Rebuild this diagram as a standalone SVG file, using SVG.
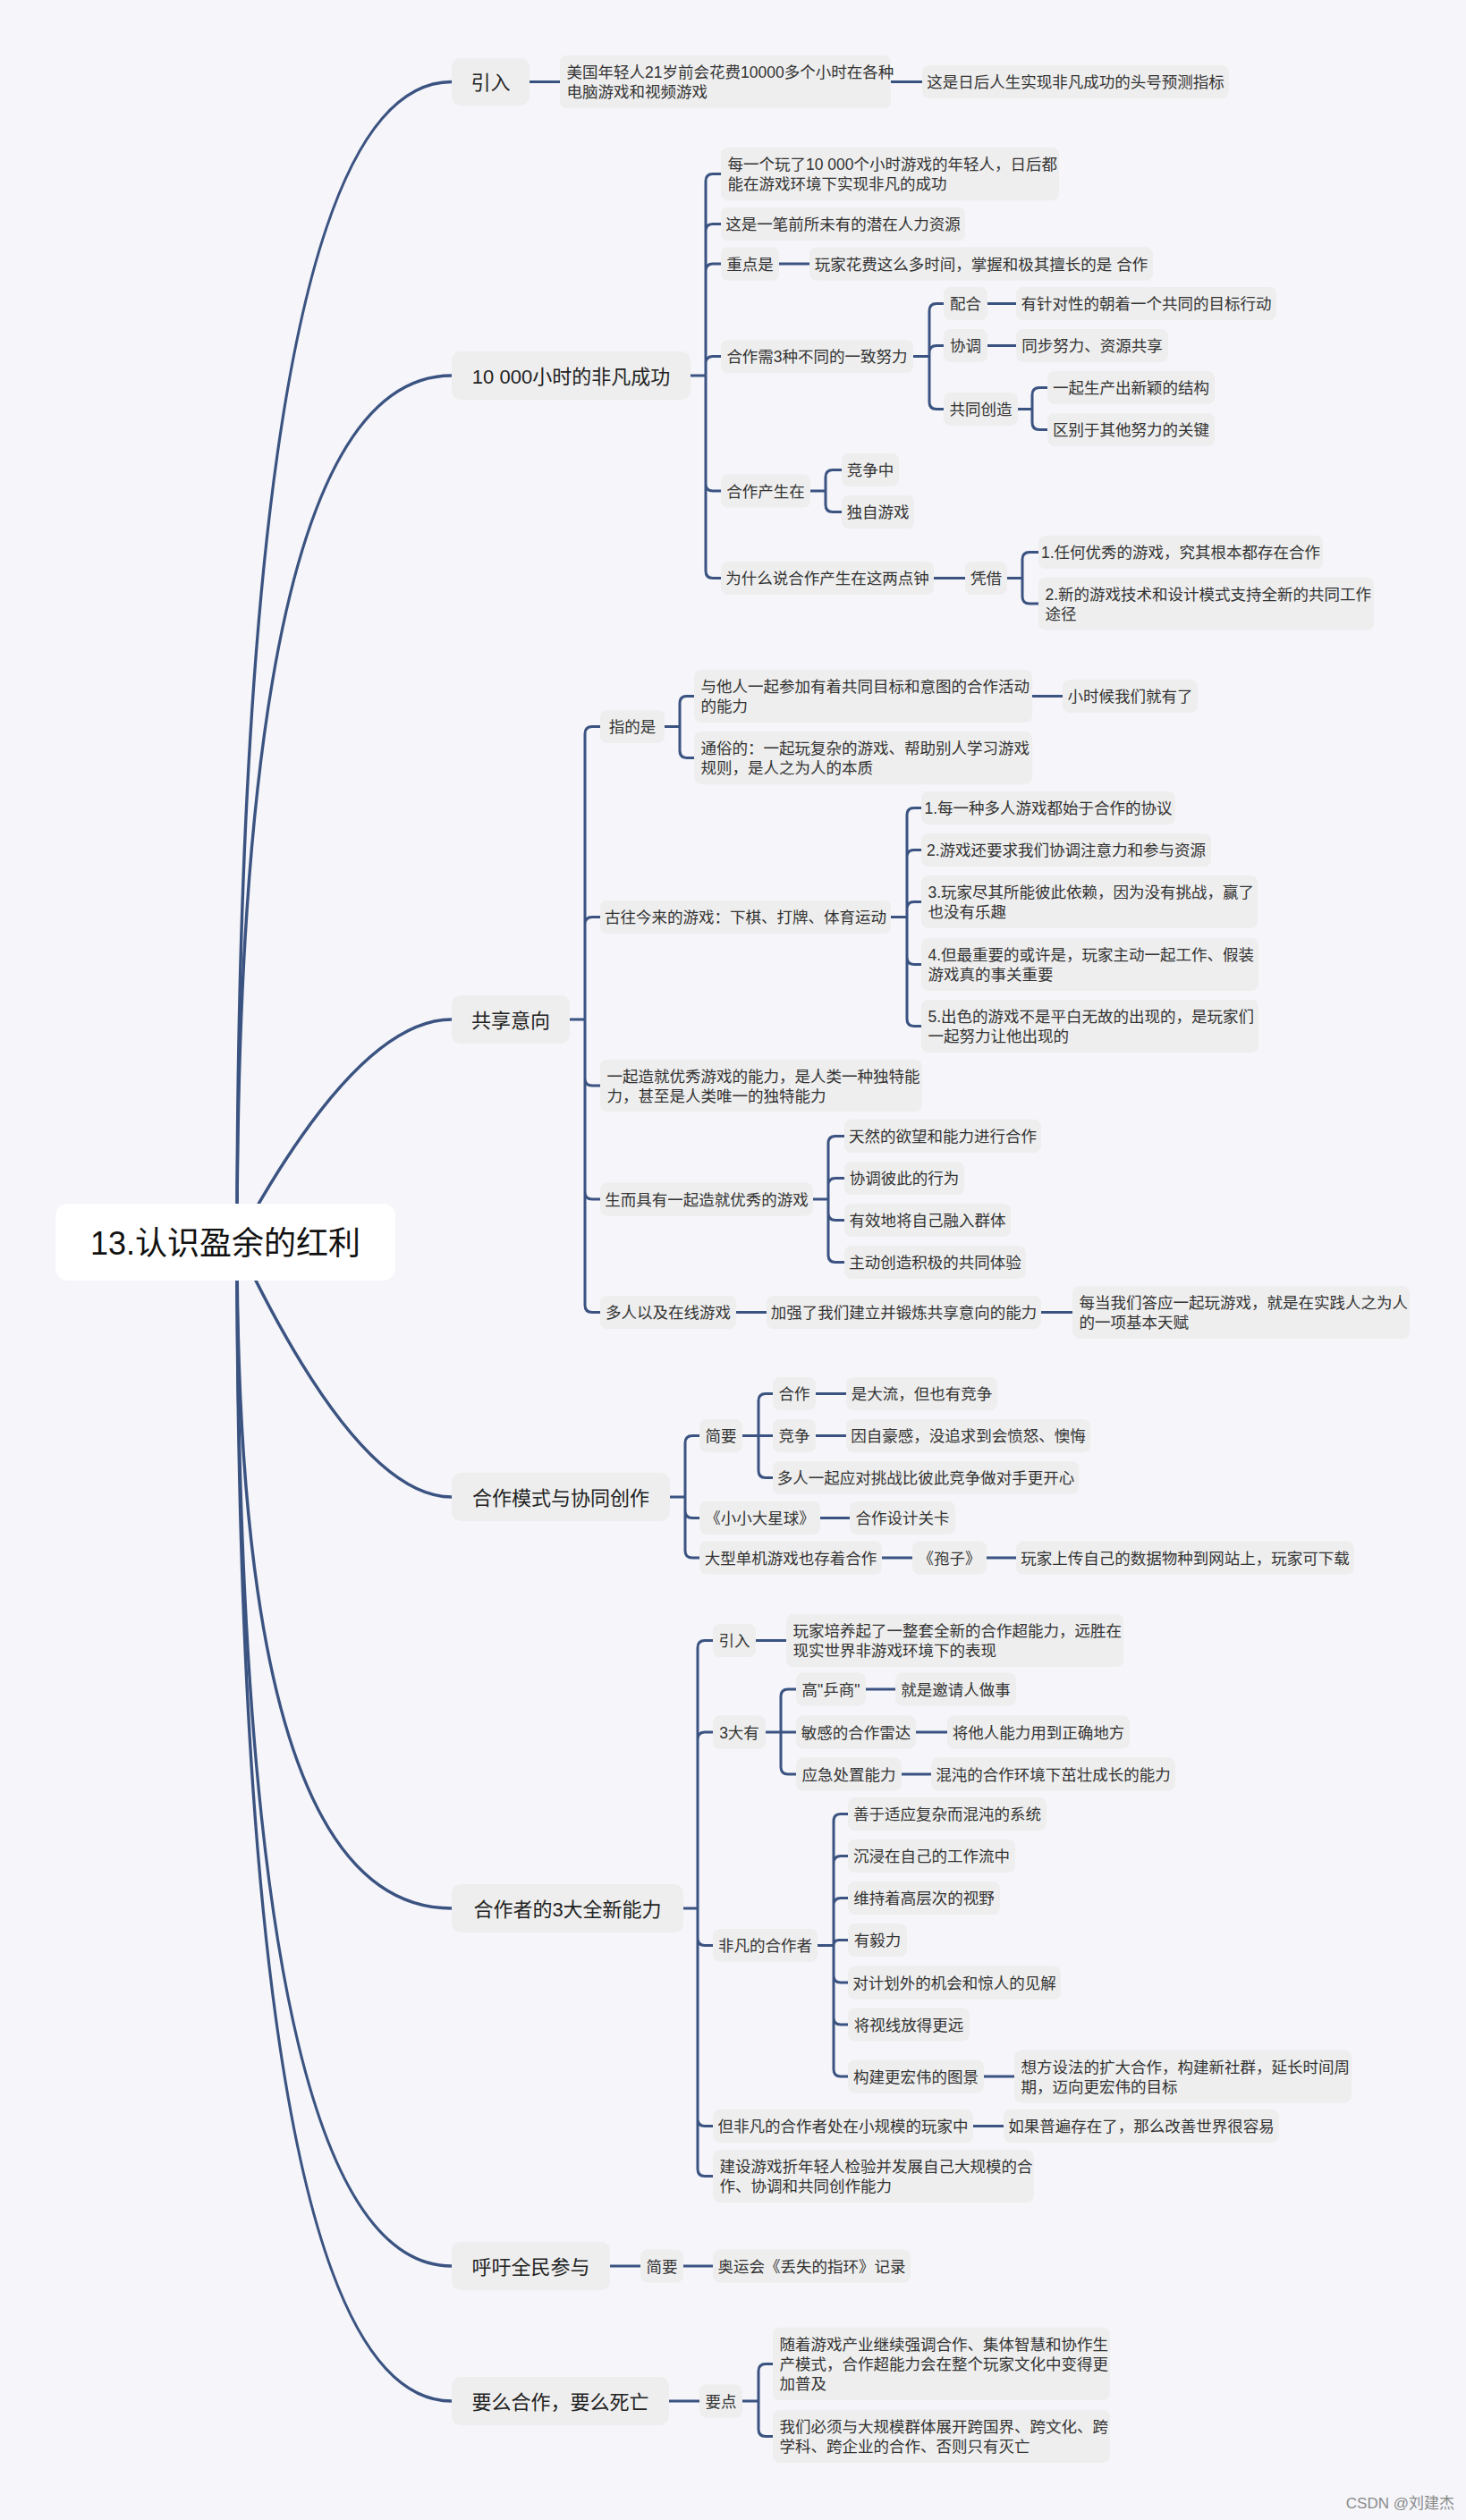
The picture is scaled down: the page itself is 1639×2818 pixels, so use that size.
<svg xmlns="http://www.w3.org/2000/svg" width="1639" height="2818" viewBox="0 0 1639 2818">
<style>
.bg{fill:#f5f5fa}
.box{fill:#eeeeee}
.rootbox{fill:#ffffff}
text{font-family:"Liberation Sans","Noto Sans CJK SC",sans-serif;fill:#333333;font-size:17.5px}
.m{text-anchor:middle}
.l1{font-size:22px;fill:#222}
.rt{font-size:36px;fill:#111;text-anchor:middle}
.c{fill:none;stroke:#3b5381;stroke-width:3;stroke-linecap:round;stroke-linejoin:round}
.mc{stroke-width:3.5}
.wm{font-size:17px;fill:#8a8a8a;text-anchor:end}
</style>
<rect class="bg" x="0" y="0" width="1639" height="2818"/>

<g id="connectors">
  <path class="c mc" d="M265 1389 Q265 91.5 505 91.5"/>
  <path class="c mc" d="M265 1389 Q265 420 505 420"/>
  <path class="c mc" d="M265 1389 Q400 1140 505 1140"/>
  <path class="c mc" d="M265 1389 Q400 1674 505 1674"/>
  <path class="c mc" d="M265 1389 Q265 2134 505 2134"/>
  <path class="c mc" d="M265 1389 Q265 2534 505 2534"/>
  <path class="c mc" d="M265 1389 Q265 2685 505 2685"/>
  <!-- 引入 -->
  <path class="c" d="M592 91.5 H626 M996 91.5 H1031"/>
  <!-- 10 000 -->
  <path class="c" d="M772 420 H789 M789 420 V202.5 Q789 194.5 797 194.5 H806 M789 420 V258.5 Q789 250.5 797 250.5 H806 M789 420 V303 Q789 295 797 295 H806 M789 420 V406.5 Q789 398.5 797 398.5 H806 M789 420 V541 Q789 549 797 549 H806 M789 420 V638.5 Q789 646.5 797 646.5 H806"/>
  <path class="c" d="M871 295 H905"/>
  <path class="c" d="M1021 398.5 H1039 M1039 398.5 V347.5 Q1039 339.5 1047 339.5 H1055 M1039 398.5 V394.5 Q1039 386.5 1047 386.5 H1055 M1039 398.5 V449.5 Q1039 457.5 1047 457.5 H1055"/>
  <path class="c" d="M1104 339.5 H1136 M1104 386.5 H1136"/>
  <path class="c" d="M1138 457.5 H1154 M1154 457.5 V441.5 Q1154 433.5 1162 433.5 H1171 M1154 457.5 V472.5 Q1154 480.5 1162 480.5 H1171"/>
  <path class="c" d="M906 549 H923 M923 549 V533.5 Q923 525.5 931 525.5 H941 M923 549 V564.5 Q923 572.5 931 572.5 H941"/>
  <path class="c" d="M1044 646.5 H1079"/>
  <path class="c" d="M1126 646.5 H1143 M1143 646.5 V625.5 Q1143 617.5 1151 617.5 H1161 M1143 646.5 V667 Q1143 675 1151 675 H1161"/>
  <!-- 共享意向 -->
  <path class="c" d="M637 1140 H654 M654 1140 V820.5 Q654 812.5 662 812.5 H671 M654 1140 V1033.5 Q654 1025.5 662 1025.5 H671 M654 1140 V1206 Q654 1214 662 1214 H671 M654 1140 V1333 Q654 1341 662 1341 H671 M654 1140 V1459.5 Q654 1467.5 662 1467.5 H671"/>
  <path class="c" d="M743 812.5 H760 M760 812.5 V786.5 Q760 778.5 768 778.5 H776 M760 812.5 V839.5 Q760 847.5 768 847.5 H776"/>
  <path class="c" d="M1154 778.5 H1188"/>
  <path class="c" d="M996 1025.5 H1014 M1014 1025.5 V911.5 Q1014 903.5 1022 903.5 H1030 M1014 1025.5 V958.5 Q1014 950.5 1022 950.5 H1030 M1014 1025.5 V1016.5 Q1014 1008.5 1022 1008.5 H1030 M1014 1025.5 V1070.5 Q1014 1078.5 1022 1078.5 H1030 M1014 1025.5 V1139.5 Q1014 1147.5 1022 1147.5 H1030"/>
  <path class="c" d="M909 1341 H926 M926 1341 V1278.5 Q926 1270.5 934 1270.5 H944 M926 1341 V1325.5 Q926 1317.5 934 1317.5 H944 M926 1341 V1356.5 Q926 1364.5 934 1364.5 H944 M926 1341 V1403.5 Q926 1411.5 934 1411.5 H944"/>
  <path class="c" d="M823 1467.5 H857 M1164 1467.5 H1199"/>
  <!-- 合作模式 -->
  <path class="c" d="M749 1674 H766 M766 1674 V1613.5 Q766 1605.5 774 1605.5 H782 M766 1674 V1689.5 Q766 1697.5 774 1697.5 H782 M766 1674 V1734 Q766 1742 774 1742 H782"/>
  <path class="c" d="M830 1605.5 H848 M848 1605.5 V1566.5 Q848 1558.5 856 1558.5 H864 M848 1605.5 H864 M848 1605.5 V1644.5 Q848 1652.5 856 1652.5 H864"/>
  <path class="c" d="M912 1558.5 H946 M912 1605.5 H946 M917 1697.5 H950 M986 1742 H1020 M1103 1742 H1136"/>
  <!-- 合作者 -->
  <path class="c" d="M764 2134 H780 M780 2134 V1842.5 Q780 1834.5 788 1834.5 H797 M780 2134 V1945 Q780 1937 788 1937 H797 M780 2134 V2167.5 Q780 2175.5 788 2175.5 H797 M780 2134 V2369.5 Q780 2377.5 788 2377.5 H797 M780 2134 V2425.5 Q780 2433.5 788 2433.5 H797"/>
  <path class="c" d="M845 1834.5 H879"/>
  <path class="c" d="M856 1937 H873 M873 1937 V1897 Q873 1889 881 1889 H890 M873 1937 H890 M873 1937 V1976 Q873 1984 881 1984 H890"/>
  <path class="c" d="M968 1889 H1001 M1024 1937 H1059 M1008 1984 H1041"/>
  <path class="c" d="M914 2175.5 H932 M932 2175.5 V2036.5 Q932 2028.5 940 2028.5 H948 M932 2175.5 V2083.5 Q932 2075.5 940 2075.5 H948 M932 2175.5 V2130.5 Q932 2122.5 940 2122.5 H948 M932 2175.5 Q932 2169.5 938 2169.5 H948 M932 2175.5 V2209 Q932 2217 940 2217 H948 M932 2175.5 V2256 Q932 2264 940 2264 H948 M932 2175.5 V2314 Q932 2322 940 2322 H948"/>
  <path class="c" d="M1100 2322 H1134 M1088 2377.5 H1122"/>
  <!-- 呼吁 -->
  <path class="c" d="M682 2534 H716 M764 2534 H797"/>
  <!-- 要么 -->
  <path class="c" d="M748 2685 H782 M830 2685 H848 M848 2685 V2651.5 Q848 2643.5 856 2643.5 H864 M848 2685 V2716.5 Q848 2724.5 856 2724.5 H864"/>
</g>

<g id="root"><rect class="rootbox" x="62" y="1346" width="380" height="86" rx="14"/><text class="rt" x="252" y="1402.5">13.认识盈余的红利</text></g>

<!-- Level 1 -->
<g id="l1-yinru"><rect class="box" x="505" y="65" width="87" height="53" rx="10"/><text class="l1 m" x="548.5" y="100">引入</text></g>
<g id="l1-10000"><rect class="box" x="505" y="393" width="267" height="54" rx="10"/><text class="l1 m" x="638.5" y="428.5">10 000小时的非凡成功</text></g>
<g id="l1-gongxiang"><rect class="box" x="505" y="1113" width="132" height="54" rx="10"/><text class="l1 m" x="571" y="1148.5">共享意向</text></g>
<g id="l1-hezuomoshi"><rect class="box" x="505" y="1647" width="244" height="54" rx="10"/><text class="l1 m" x="627" y="1682.5">合作模式与协同创作</text></g>
<g id="l1-hezuozhe"><rect class="box" x="505" y="2107" width="259" height="54" rx="10"/><text class="l1 m" x="634.5" y="2142.5">合作者的3大全新能力</text></g>
<g id="l1-huyu"><rect class="box" x="505" y="2507" width="177" height="54" rx="10"/><text class="l1 m" x="593.5" y="2542.5">呼吁全民参与</text></g>
<g id="l1-yaome"><rect class="box" x="505" y="2658" width="243" height="54" rx="10"/><text class="l1 m" x="626.5" y="2693.5">要么合作，要么死亡</text></g>

<!-- 引入 branch -->
<g id="a1"><rect class="box" x="626" y="62" width="370" height="59" rx="8"/><text x="633.5" y="87">美国年轻人21岁前会花费10000多个小时在各种<tspan x="633.5" y="109">电脑游戏和视频游戏</tspan></text></g>
<g id="a2"><rect class="box" x="1031" y="73" width="343" height="37" rx="8"/><text class="m" x="1202.5" y="98">这是日后人生实现非凡成功的头号预测指标</text></g>

<!-- 10 000 branch -->
<g id="b1"><rect class="box" x="806" y="165" width="378" height="59" rx="8"/><text x="813.5" y="190">每一个玩了10 000个小时游戏的年轻人，日后都<tspan x="813.5" y="212">能在游戏环境下实现非凡的成功</tspan></text></g>
<g id="b2"><rect class="box" x="806" y="232" width="273" height="37" rx="8"/><text class="m" x="942.5" y="257">这是一笔前所未有的潜在人力资源</text></g>
<g id="b3"><rect class="box" x="806" y="276.5" width="65" height="37" rx="8"/><text class="m" x="838.5" y="301.5">重点是</text></g>
<g id="b3a"><rect class="box" x="905" y="276.5" width="384" height="37" rx="8"/><text class="m" x="1097" y="301.5">玩家花费这么多时间，掌握和极其擅长的是 合作</text></g>
<g id="b4"><rect class="box" x="806" y="380" width="215" height="37" rx="8"/><text class="m" x="913.5" y="405">合作需3种不同的一致努力</text></g>
<g id="b4a"><rect class="box" x="1055" y="321" width="49" height="37" rx="8"/><text class="m" x="1079.5" y="346">配合</text></g>
<g id="b4a1"><rect class="box" x="1136" y="321" width="291" height="37" rx="8"/><text class="m" x="1281.5" y="346">有针对性的朝着一个共同的目标行动</text></g>
<g id="b4b"><rect class="box" x="1055" y="368" width="49" height="37" rx="8"/><text class="m" x="1079.5" y="393">协调</text></g>
<g id="b4b1"><rect class="box" x="1136" y="368" width="170" height="37" rx="8"/><text class="m" x="1221" y="393">同步努力、资源共享</text></g>
<g id="b4c"><rect class="box" x="1055" y="439" width="83" height="37" rx="8"/><text class="m" x="1096.5" y="464">共同创造</text></g>
<g id="b4c1"><rect class="box" x="1171" y="415" width="187" height="37" rx="8"/><text class="m" x="1264.5" y="440">一起生产出新颖的结构</text></g>
<g id="b4c2"><rect class="box" x="1171" y="462" width="187" height="37" rx="8"/><text class="m" x="1264.5" y="487">区别于其他努力的关键</text></g>
<g id="b5"><rect class="box" x="806" y="530.5" width="100" height="37" rx="8"/><text class="m" x="856" y="555.5">合作产生在</text></g>
<g id="b5a"><rect class="box" x="941" y="507" width="64" height="37" rx="8"/><text class="m" x="973" y="532">竞争中</text></g>
<g id="b5b"><rect class="box" x="941" y="554" width="81" height="37" rx="8"/><text class="m" x="981.5" y="579">独自游戏</text></g>
<g id="b6"><rect class="box" x="806" y="628" width="238" height="37" rx="8"/><text class="m" x="925" y="653">为什么说合作产生在这两点钟</text></g>
<g id="b6a"><rect class="box" x="1079" y="628" width="47" height="37" rx="8"/><text class="m" x="1102.5" y="653">凭借</text></g>
<g id="b6a1"><rect class="box" x="1161" y="599" width="318" height="37" rx="8"/><text class="m" x="1320" y="624">1.任何优秀的游戏，究其根本都存在合作</text></g>
<g id="b6a2"><rect class="box" x="1161" y="645.5" width="375" height="59" rx="8"/><text x="1168.5" y="670.5">2.新的游戏技术和设计模式支持全新的共同工作<tspan x="1168.5" y="692.5">途径</tspan></text></g>

<!-- 共享意向 branch -->
<g id="c1"><rect class="box" x="671" y="794" width="72" height="37" rx="8"/><text class="m" x="707" y="819">指的是</text></g>
<g id="c1a"><rect class="box" x="776" y="749" width="378" height="59" rx="8"/><text x="783.5" y="774">与他人一起参加有着共同目标和意图的合作活动<tspan x="783.5" y="796">的能力</tspan></text></g>
<g id="c1a1"><rect class="box" x="1188" y="760" width="151" height="37" rx="8"/><text class="m" x="1263.5" y="785">小时候我们就有了</text></g>
<g id="c1b"><rect class="box" x="776" y="818" width="378" height="59" rx="8"/><text x="783.5" y="843">通俗的：一起玩复杂的游戏、帮助别人学习游戏<tspan x="783.5" y="865">规则，是人之为人的本质</tspan></text></g>
<g id="c2"><rect class="box" x="671" y="1007" width="325" height="37" rx="8"/><text class="m" x="833.5" y="1032">古往今来的游戏：下棋、打牌、体育运动</text></g>
<g id="c2a"><rect class="box" x="1030" y="885" width="284" height="37" rx="8"/><text class="m" x="1172" y="910">1.每一种多人游戏都始于合作的协议</text></g>
<g id="c2b"><rect class="box" x="1030" y="932" width="324" height="37" rx="8"/><text class="m" x="1192" y="957">2.游戏还要求我们协调注意力和参与资源</text></g>
<g id="c2c"><rect class="box" x="1030" y="979" width="376" height="59" rx="8"/><text x="1037.5" y="1004">3.玩家尽其所能彼此依赖，因为没有挑战，赢了<tspan x="1037.5" y="1026">也没有乐趣</tspan></text></g>
<g id="c2d"><rect class="box" x="1030" y="1049" width="377" height="59" rx="8"/><text x="1037.5" y="1074">4.但最重要的或许是，玩家主动一起工作、假装<tspan x="1037.5" y="1096">游戏真的事关重要</tspan></text></g>
<g id="c2e"><rect class="box" x="1030" y="1118" width="377" height="59" rx="8"/><text x="1037.5" y="1143">5.出色的游戏不是平白无故的出现的，是玩家们<tspan x="1037.5" y="1165">一起努力让他出现的</tspan></text></g>
<g id="c3"><rect class="box" x="671" y="1185" width="360" height="58" rx="8"/><text x="678.5" y="1209.5">一起造就优秀游戏的能力，是人类一种独特能<tspan x="678.5" y="1231.5">力，甚至是人类唯一的独特能力</tspan></text></g>
<g id="c4"><rect class="box" x="671" y="1322.5" width="238" height="37" rx="8"/><text class="m" x="790" y="1347.5">生而具有一起造就优秀的游戏</text></g>
<g id="c4a"><rect class="box" x="944" y="1252" width="220" height="37" rx="8"/><text class="m" x="1054" y="1277">天然的欲望和能力进行合作</text></g>
<g id="c4b"><rect class="box" x="944" y="1299" width="134" height="37" rx="8"/><text class="m" x="1011" y="1324">协调彼此的行为</text></g>
<g id="c4c"><rect class="box" x="944" y="1346" width="186" height="37" rx="8"/><text class="m" x="1037" y="1371">有效地将自己融入群体</text></g>
<g id="c4d"><rect class="box" x="944" y="1393" width="203" height="37" rx="8"/><text class="m" x="1045.5" y="1418">主动创造积极的共同体验</text></g>
<g id="c5"><rect class="box" x="671" y="1449" width="152" height="37" rx="8"/><text class="m" x="747" y="1474">多人以及在线游戏</text></g>
<g id="c5a"><rect class="box" x="857" y="1449" width="307" height="37" rx="8"/><text class="m" x="1010.5" y="1474">加强了我们建立并锻炼共享意向的能力</text></g>
<g id="c5b"><rect class="box" x="1199" y="1438" width="377" height="59" rx="8"/><text x="1206.5" y="1463">每当我们答应一起玩游戏，就是在实践人之为人<tspan x="1206.5" y="1485">的一项基本天赋</tspan></text></g>

<!-- 合作模式 branch -->
<g id="d1"><rect class="box" x="782" y="1587" width="48" height="37" rx="8"/><text class="m" x="806" y="1612">简要</text></g>
<g id="d1a"><rect class="box" x="864" y="1540" width="48" height="37" rx="8"/><text class="m" x="888" y="1565">合作</text></g>
<g id="d1a1"><rect class="box" x="946" y="1540" width="169" height="37" rx="8"/><text class="m" x="1030.5" y="1565">是大流，但也有竞争</text></g>
<g id="d1b"><rect class="box" x="864" y="1587" width="48" height="37" rx="8"/><text class="m" x="888" y="1612">竞争</text></g>
<g id="d1b1"><rect class="box" x="946" y="1587" width="273" height="37" rx="8"/><text class="m" x="1082.5" y="1612">因自豪感，没追求到会愤怒、懊悔</text></g>
<g id="d1c"><rect class="box" x="864" y="1634" width="342" height="37" rx="8"/><text class="m" x="1035" y="1659">多人一起应对挑战比彼此竞争做对手更开心</text></g>
<g id="d2"><rect class="box" x="782" y="1679" width="135" height="37" rx="8"/><text class="m" x="849.5" y="1704">《小小大星球》</text></g>
<g id="d2a"><rect class="box" x="950" y="1679" width="118" height="37" rx="8"/><text class="m" x="1009" y="1704">合作设计关卡</text></g>
<g id="d3"><rect class="box" x="782" y="1723.5" width="204" height="37" rx="8"/><text class="m" x="884" y="1748.5">大型单机游戏也存着合作</text></g>
<g id="d3a"><rect class="box" x="1020" y="1723.5" width="83" height="37" rx="8"/><text class="m" x="1061.5" y="1748.5">《孢子》</text></g>
<g id="d3b"><rect class="box" x="1136" y="1723.5" width="378" height="37" rx="8"/><text class="m" x="1325" y="1748.5">玩家上传自己的数据物种到网站上，玩家可下载</text></g>

<!-- 合作者 branch -->
<g id="e1"><rect class="box" x="797" y="1816" width="48" height="37" rx="8"/><text class="m" x="821" y="1841">引入</text></g>
<g id="e1a"><rect class="box" x="879" y="1805" width="377" height="59" rx="8"/><text x="886.5" y="1830">玩家培养起了一整套全新的合作超能力，远胜在<tspan x="886.5" y="1852">现实世界非游戏环境下的表现</tspan></text></g>
<g id="e2"><rect class="box" x="797" y="1918.5" width="59" height="37" rx="8"/><text class="m" x="826.5" y="1943.5">3大有</text></g>
<g id="e2a"><rect class="box" x="890" y="1870.5" width="78" height="37" rx="8"/><text class="m" x="929" y="1895.5">高"乒商"</text></g>
<g id="e2a1"><rect class="box" x="1001" y="1870.5" width="135" height="37" rx="8"/><text class="m" x="1068.5" y="1895.5">就是邀请人做事</text></g>
<g id="e2b"><rect class="box" x="890" y="1918.5" width="134" height="37" rx="8"/><text class="m" x="957" y="1943.5">敏感的合作雷达</text></g>
<g id="e2b1"><rect class="box" x="1059" y="1918.5" width="204" height="37" rx="8"/><text class="m" x="1161" y="1943.5">将他人能力用到正确地方</text></g>
<g id="e2c"><rect class="box" x="890" y="1965.5" width="118" height="37" rx="8"/><text class="m" x="949" y="1990.5">应急处置能力</text></g>
<g id="e2c1"><rect class="box" x="1041" y="1965.5" width="273" height="37" rx="8"/><text class="m" x="1177.5" y="1990.5">混沌的合作环境下茁壮成长的能力</text></g>
<g id="e3"><rect class="box" x="797" y="2157" width="117" height="37" rx="8"/><text class="m" x="855.5" y="2182">非凡的合作者</text></g>
<g id="e3a"><rect class="box" x="948" y="2010" width="222" height="37" rx="8"/><text class="m" x="1059" y="2035">善于适应复杂而混沌的系统</text></g>
<g id="e3b"><rect class="box" x="948" y="2057" width="187" height="37" rx="8"/><text class="m" x="1041.5" y="2082">沉浸在自己的工作流中</text></g>
<g id="e3c"><rect class="box" x="948" y="2104" width="170" height="37" rx="8"/><text class="m" x="1033" y="2129">维持着高层次的视野</text></g>
<g id="e3d"><rect class="box" x="948" y="2151" width="66" height="37" rx="8"/><text class="m" x="981" y="2176">有毅力</text></g>
<g id="e3e"><rect class="box" x="948" y="2198.5" width="238" height="37" rx="8"/><text class="m" x="1067" y="2223.5">对计划外的机会和惊人的见解</text></g>
<g id="e3f"><rect class="box" x="948" y="2245.5" width="136" height="37" rx="8"/><text class="m" x="1016" y="2270.5">将视线放得更远</text></g>
<g id="e3g"><rect class="box" x="948" y="2303.5" width="152" height="37" rx="8"/><text class="m" x="1024" y="2328.5">构建更宏伟的图景</text></g>
<g id="e3g1"><rect class="box" x="1134" y="2292.5" width="377" height="59" rx="8"/><text x="1141.5" y="2317.5">想方设法的扩大合作，构建新社群，延长时间周<tspan x="1141.5" y="2339.5">期，迈向更宏伟的目标</tspan></text></g>
<g id="e4"><rect class="box" x="797" y="2359" width="291" height="37" rx="8"/><text class="m" x="942.5" y="2384">但非凡的合作者处在小规模的玩家中</text></g>
<g id="e4a"><rect class="box" x="1122" y="2359" width="308" height="37" rx="8"/><text class="m" x="1276" y="2384">如果普遍存在了，那么改善世界很容易</text></g>
<g id="e5"><rect class="box" x="797" y="2404" width="359" height="59" rx="8"/><text x="804.5" y="2429">建设游戏折年轻人检验并发展自己大规模的合<tspan x="804.5" y="2451">作、协调和共同创作能力</tspan></text></g>

<!-- 呼吁 branch -->
<g id="f1"><rect class="box" x="716" y="2515.5" width="48" height="37" rx="8"/><text class="m" x="740" y="2540.5">简要</text></g>
<g id="f1a"><rect class="box" x="797" y="2515.5" width="221" height="37" rx="8"/><text class="m" x="907.5" y="2540.5">奥运会《丢失的指环》记录</text></g>

<!-- 要么 branch -->
<g id="g1"><rect class="box" x="782" y="2666.5" width="48" height="37" rx="8"/><text class="m" x="806" y="2691.5">要点</text></g>
<g id="g1a"><rect class="box" x="864" y="2603" width="377" height="81" rx="8"/><text x="871.5" y="2628">随着游戏产业继续强调合作、集体智慧和协作生<tspan x="871.5" y="2650">产模式，合作超能力会在整个玩家文化中变得更</tspan><tspan x="871.5" y="2672">加普及</tspan></text></g>
<g id="g1b"><rect class="box" x="864" y="2695" width="377" height="59" rx="8"/><text x="871.5" y="2720">我们必须与大规模群体展开跨国界、跨文化、跨<tspan x="871.5" y="2742">学科、跨企业的合作、否则只有灭亡</tspan></text></g>

<text class="wm" x="1626" y="2805">CSDN @刘建杰</text>
</svg>
